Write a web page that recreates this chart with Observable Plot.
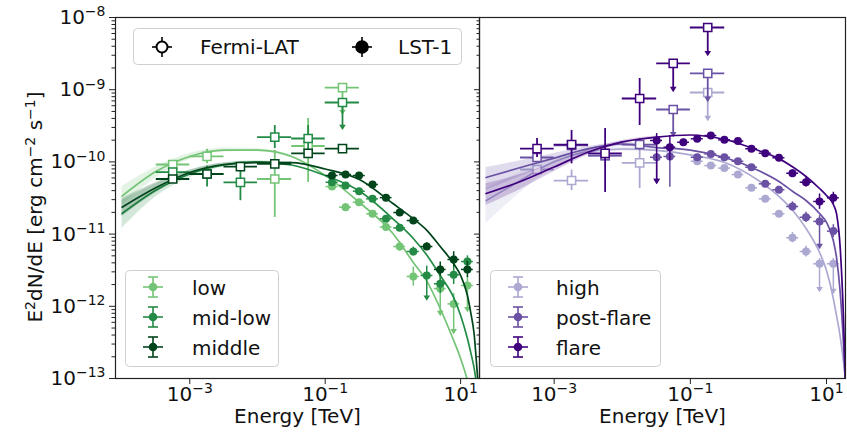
<!DOCTYPE html>
<html>
<head>
<meta charset="utf-8">
<script src="https://cdn.jsdelivr.net/npm/d3@7"></script>
<script src="https://cdn.jsdelivr.net/npm/@observablehq/plot@0.6"></script>
<style>
  body { margin: 0; background: #fff; font-family: "DejaVu Sans", sans-serif; }
  #fig { position: relative; width: 847px; height: 433px; overflow: hidden; background: #fff; }
  #fig > svg { position: absolute; top: 0; }
</style>
</head>
<body>
<div id="fig"></div>
<script>
// ---------- axes ----------
const energyDomain = [8e-5, 19];
const fluxDomain = [1e-13, 1e-8];
const fluxTicks = [1e-13, 1e-12, 1e-11, 1e-10, 1e-9, 1e-8];
const fluxTickLabels = ["10^{−13}", "10^{−12}", "10^{−11}", "10^{−10}", "10^{−9}", "10^{−8}"];
const fluxMinorTicks = fluxTicks.slice(0, -1).flatMap(t => [2, 3, 4, 5, 6, 7, 8, 9].map(m => m * t));
const energyTicks = [1e-3, 1e-1, 10];
const energyTickLabels = ["10^{−3}", "10^{−1}", "10^{1}"];
const xTitle = "Energy [TeV]";
const yTitle = "E^{2}dN/dE [erg cm^{−2} s^{−1}]";

// ---------- energy bins (TeV) ----------
const fermiE    = [5.6e-4, 1.8e-3, 5.6e-3, 1.8e-2, 5.6e-2, 0.18];
const fermiEmin = [3.2e-4, 1.0e-3, 3.2e-3, 1.0e-2, 3.2e-2, 0.10];
const fermiEmax = [1.0e-3, 3.2e-3, 1.0e-2, 3.2e-2, 0.10, 0.32];
const lstE    = [0.032, 0.050, 0.079, 0.126, 0.20, 0.316, 0.50, 0.79, 1.26, 2.0, 3.16, 5.0, 7.9, 12.6];
const lstEmin = [0.026, 0.041, 0.065, 0.103, 0.163, 0.26, 0.41, 0.65, 1.03, 1.63, 2.6, 4.1, 6.5, 10.3];
const lstEmax = [0.039, 0.061, 0.097, 0.155, 0.245, 0.39, 0.61, 0.97, 1.54, 2.45, 3.9, 6.1, 9.7, 15.4];
const modelE = [1e-4, 3.2e-4, 1e-3, 3.2e-3, 1e-2, 3.2e-2, 0.1, 0.32, 1, 2, 3.2, 5, 7.9, 10, 12.6, 14.1, 15.8, 17.8, 19];
const bandE  = [1e-4, 3.2e-4, 1e-3, 3.2e-3, 1e-2, 3.2e-2];

// ---------- low ----------
const lowFermi   = [9.2e-11, 1.19e-10, null, 5.8e-11, 1.66e-10, 1.07e-9];
const lowFermiLo = [8.4e-11, 9.4e-11, null, 1.7e-11, 5.2e-11, 5.0e-10];
const lowFermiHi = [1.0e-10, 1.5e-10, null, 1.44e-10, 4.0e-10, null];
const lowFermiUL = [0, 0, 0, 0, 0, 1];
const lowLst   = [null, null, null, 4.56e-11, 2.36e-11, 2.77e-11, 1.91e-11, 1.25e-11, 6.73e-12, 2.59e-12, null, 1.76e-12, 1.08e-12, 1.94e-12];
const lowLstLo = [null, null, null, 4.2e-11, 2.1e-11, 2.55e-11, 1.75e-11, 1.12e-11, 5.8e-12, 1.9e-12, null, 8.2e-13, 4.6e-13, 9.3e-13];
const lowLstHi = [null, null, null, 4.9e-11, 2.65e-11, 3.0e-11, 2.08e-11, 1.38e-11, 7.8e-12, 3.5e-12, null, 2.6e-12, 1.5e-12, 2.6e-12];
const lowLstArrow = [0, 0, 0, 0, 0, 0, 0, 0, 0, 0, 0, 1, 1, 1];
const lowModel = [3.36e-11, 7.4e-11, 1.19e-10, 1.46e-10, 1.46e-10, 1.19e-10, 6.5e-11, 2.74e-11, 1.02e-11, 4.05e-12, 2.2e-12, 9.3e-13, 3.36e-13, 1.89e-13, 9.4e-14, 6e-14, 4e-14, 2.5e-14, 2e-14];
const lowBandLo = [2.49e-11, 6.08e-11, 1.08e-10, 1.37e-10, 1.39e-10, 1.13e-10];
const lowBandHi = [4.56e-11, 8.6e-11, 1.31e-10, 1.56e-10, 1.53e-10, 1.25e-10];

// ---------- mid-low ----------
const midLowFermi   = [7.2e-11, 6.8e-11, 5.2e-11, 2.2e-10, 2.11e-10, 6.65e-10];
const midLowFermiLo = [6.6e-11, 4.5e-11, 2.9e-11, 1.53e-10, 1.35e-10, 3.1e-10];
const midLowFermiHi = [7.9e-11, 8.7e-11, 8.2e-11, 3.19e-10, 3.19e-10, null];
const midLowFermiUL = [0, 0, 0, 0, 0, 1];
const midLowLst   = [null, null, null, 5.23e-11, 4.71e-11, 3.93e-11, 3.08e-11, 1.63e-11, 1.22e-11, 5.74e-12, 2.67e-12, 2.05e-12, 2.73e-12, 4.17e-12];
const midLowLstLo = [null, null, null, 4.9e-11, 4.4e-11, 3.65e-11, 2.85e-11, 1.5e-11, 1.1e-11, 5.0e-12, 1.34e-12, 1.5e-12, 2.0e-12, 3.4e-12];
const midLowLstHi = [null, null, null, 5.6e-11, 5.0e-11, 4.2e-11, 3.3e-11, 1.77e-11, 1.35e-11, 6.6e-12, 3.6e-12, 2.8e-12, 3.6e-12, 5.0e-12];
const midLowLstArrow = [0, 0, 0, 0, 0, 0, 0, 0, 0, 0, 1, 0, 0, 0];
const midLowModel = [1.93e-11, 4.08e-11, 6.8e-11, 9.06e-11, 9.98e-11, 9.06e-11, 6.48e-11, 3.95e-11, 1.63e-11, 8.7e-12, 5.06e-12, 2.67e-12, 1.32e-12, 7.46e-13, 3.58e-13, 2.3e-13, 1.4e-13, 6.5e-14, 4e-14];
const midLowBandLo = [1.2e-11, 3.32e-11, 6.08e-11, 8.5e-11, 9.5e-11, 8.6e-11];
const midLowBandHi = [2.92e-11, 5.02e-11, 7.6e-11, 9.66e-11, 1.04e-10, 9.5e-11];

// ---------- middle ----------
const middleFermi   = [5.8e-11, 6.8e-11, 8.6e-11, 9.4e-11, 1.31e-10, 1.53e-10];
const middleFermiLo = [5.4e-11, 6.2e-11, 7.9e-11, 8.6e-11, 1.2e-10, 1.4e-10];
const middleFermiHi = [6.3e-11, 7.5e-11, 9.4e-11, 1.03e-10, 1.45e-10, 1.7e-10];
const middleFermiUL = [0, 0, 0, 0, 0, 0];
const middleLst   = [null, null, null, 6.48e-11, 6.68e-11, 6.48e-11, 4.87e-11, 3.2e-11, 1.99e-11, 1.54e-11, 6.73e-12, 3.24e-12, 4.45e-12, 3.24e-12];
const middleLstLo = [null, null, null, 6.1e-11, 6.3e-11, 6.1e-11, 4.6e-11, 3.0e-11, 1.85e-11, 1.42e-11, 6.0e-12, 2.6e-12, 3.5e-12, 2.5e-12];
const middleLstHi = [null, null, null, 6.9e-11, 7.1e-11, 6.9e-11, 5.2e-11, 3.4e-11, 2.15e-11, 1.67e-11, 7.6e-12, 4.1e-12, 5.7e-12, 4.2e-12];
const middleLstArrow = [0, 0, 0, 0, 0, 0, 0, 0, 0, 0, 0, 0, 0, 0];
const middleModel = [2.36e-11, 4.42e-11, 7.13e-11, 9.2e-11, 9.8e-11, 9.8e-11, 7.98e-11, 5.7e-11, 2.65e-11, 1.63e-11, 1.12e-11, 6.73e-12, 3.88e-12, 2.67e-12, 1.41e-12, 8.2e-13, 4.2e-13, 1.05e-13, 5e-14];
const middleBandLo = [1.75e-11, 3.77e-11, 6.59e-11, 8.77e-11, 9.5e-11, 9.5e-11];
const middleBandHi = [3.11e-11, 5.19e-11, 7.73e-11, 9.66e-11, 1.01e-10, 1.01e-10];

// ---------- high ----------
const highFermi   = [7.85e-11, 5.52e-11, 1.2e-10, 9.7e-11, null, 9.14e-10];
const highFermiLo = [7.3e-11, 4.0e-11, 1.1e-10, 4.28e-11, null, 4.12e-10];
const highFermiHi = [8.5e-11, 7.7e-11, 1.3e-10, 1.44e-10, null, null];
const highFermiUL = [0, 0, 0, 0, 0, 1];
const highLst   = [null, null, null, 1.02e-10, 8.9e-11, 8.2e-11, 6.68e-11, 4.38e-11, 3.08e-11, 1.91e-11, 8.9e-12, 5.74e-12, 3.88e-12, 3.88e-12];
const highLstLo = [null, null, null, 9.6e-11, 8.4e-11, 7.7e-11, 6.3e-11, 4.1e-11, 2.9e-11, 1.78e-11, 7.6e-12, 4.8e-12, 1.76e-12, 1.66e-12];
const highLstHi = [null, null, null, 1.08e-10, 9.4e-11, 8.7e-11, 7.1e-11, 4.65e-11, 3.3e-11, 2.05e-11, 1.05e-11, 6.8e-12, 4.6e-12, 4.6e-12];
const highLstArrow = [0, 0, 0, 0, 0, 0, 0, 0, 0, 0, 0, 0, 1, 1];
const highModel = [2.92e-11, 5.52e-11, 1.01e-10, 1.39e-10, 1.51e-10, 1.44e-10, 1.25e-10, 9.8e-11, 5.52e-11, 3.32e-11, 2.12e-11, 1.2e-11, 5.56e-12, 3.13e-12, 1.28e-12, 7.2e-13, 3.94e-13, 1.67e-13, 9.4e-14];
const highBandLo = [1.4e-11, 3.77e-11, 8.35e-11, 1.26e-10, 1.42e-10, 1.37e-10];
const highBandHi = [4.28e-11, 7.13e-11, 1.15e-10, 1.49e-10, 1.58e-10, 1.51e-10];

// ---------- post-flare ----------
const postFermi   = [1.15e-10, 1.69e-10, 1.23e-10, 1.74e-10, 5.32e-10, 1.68e-9];
const postFermiLo = [1.08e-10, 1.5e-10, 1.1e-10, 1.45e-10, 2.47e-10, 7.55e-10];
const postFermiHi = [1.25e-10, 1.9e-10, 1.4e-10, 2.1e-10, null, null];
const postFermiUL = [0, 0, 0, 0, 1, 1];
const postLst   = [1.16e-10, 1.19e-10, null, 1.16e-10, 1.29e-10, 1.16e-10, 1.02e-10, 8.45e-11, 4.97e-11, 4.11e-11, 2.41e-11, 1.71e-11, 1.5e-11, 1.1e-11];
const postLstLo = [5.52e-11, 4.47e-11, null, 1.08e-10, 1.2e-10, 1.08e-10, 9.5e-11, 7.8e-11, 4.5e-11, 3.7e-11, 2.1e-11, 1.45e-11, 6.95e-12, 9.0e-12];
const postLstHi = [1.3e-10, 1.3e-10, null, 1.25e-10, 1.38e-10, 1.25e-10, 1.1e-10, 9.2e-11, 5.5e-11, 4.6e-11, 2.8e-11, 2.0e-11, 1.8e-11, 1.35e-11];
const postLstArrow = [1, 0, 0, 0, 0, 0, 0, 0, 0, 0, 0, 0, 1, 0];
const postModel = [6.08e-11, 8.35e-11, 1.13e-10, 1.53e-10, 1.77e-10, 1.58e-10, 1.46e-10, 1.15e-10, 7.6e-11, 5.36e-11, 3.89e-11, 2.92e-11, 1.93e-11, 1.45e-11, 8.1e-12, 4.59e-12, 1.66e-12, 2.87e-13, 8e-14];
const postBandLo = [4.02e-11, 6.28e-11, 9.5e-11, 1.39e-10, 1.63e-10, 1.49e-10];
const postBandHi = [8.35e-11, 1.04e-10, 1.31e-10, 1.63e-10, 1.86e-10, 1.69e-10];

// ---------- flare ----------
const flareFermi   = [1.53e-10, 1.74e-10, 1.31e-10, 7.55e-10, 2.31e-9, 7.27e-9];
const flareFermiLo = [1.15e-10, 9.4e-11, 3.77e-11, 3.19e-10, 1.04e-9, 3.27e-9];
const flareFermiHi = [2.11e-10, 2.72e-10, 2.9e-10, 1.43e-9, null, null];
const flareFermiUL = [0, 0, 0, 0, 1, 1];
const flareLst   = [1.98e-10, 1.6e-10, 1.87e-10, 2.09e-10, 2.32e-10, 2.02e-10, 1.94e-10, 1.52e-10, 1.32e-10, 1.14e-10, 6.97e-11, 5.23e-11, 2.83e-11, 3.18e-11];
const flareLstLo = [5.52e-11, 1.04e-10, 1.7e-10, 1.95e-10, 2.17e-10, 1.88e-10, 1.8e-10, 1.41e-10, 1.22e-10, 1.05e-10, 6.2e-11, 4.5e-11, 2.2e-11, 2.6e-11];
const flareLstHi = [2.47e-10, 2.32e-10, 2.05e-10, 2.24e-10, 2.48e-10, 2.17e-10, 2.09e-10, 1.63e-10, 1.42e-10, 1.24e-10, 7.8e-11, 6.1e-11, 3.6e-11, 3.8e-11];
const flareLstArrow = [1, 0, 0, 0, 0, 0, 0, 0, 0, 0, 0, 0, 0, 0];
const flareModel = [3.65e-11, 5.36e-11, 8.5e-11, 1.37e-10, 1.89e-10, 2.21e-10, 2.36e-10, 2.04e-10, 1.44e-10, 1.11e-10, 8.5e-11, 6.28e-11, 4.28e-11, 3.42e-11, 2.57e-11, 1.87e-11, 6.95e-12, 6.35e-13, 8e-14];
const flareBandLo = [2.49e-11, 4.15e-11, 7.36e-11, 1.26e-10, 1.77e-10, 2.14e-10];
const flareBandHi = [5.02e-11, 6.68e-11, 9.8e-11, 1.49e-10, 1.98e-10, 2.29e-10];

// ---------- colours & states ----------
const greens = ["#74c476", "#238b45", "#00441b"];
const purples = ["#aba8d2", "#6a51a3", "#3f007d"];
const leftNames = ["low", "mid-low", "middle"];
const rightNames = ["high", "post-flare", "flare"];

const state = (name, color, f, fLo, fHi, fUL, l, lLo, lHi, lArr, model, bLo, bHi) =>
  ({name, color, f, fLo, fHi, fUL, l, lLo, lHi, lArr, model, bLo, bHi});

const leftStates = [
  state("low", greens[0], lowFermi, lowFermiLo, lowFermiHi, lowFermiUL, lowLst, lowLstLo, lowLstHi, lowLstArrow, lowModel, lowBandLo, lowBandHi),
  state("mid-low", greens[1], midLowFermi, midLowFermiLo, midLowFermiHi, midLowFermiUL, midLowLst, midLowLstLo, midLowLstHi, midLowLstArrow, midLowModel, midLowBandLo, midLowBandHi),
  state("middle", greens[2], middleFermi, middleFermiLo, middleFermiHi, middleFermiUL, middleLst, middleLstLo, middleLstHi, middleLstArrow, middleModel, middleBandLo, middleBandHi)
];
const rightStates = [
  state("high", purples[0], highFermi, highFermiLo, highFermiHi, highFermiUL, highLst, highLstLo, highLstHi, highLstArrow, highModel, highBandLo, highBandHi),
  state("post-flare", purples[1], postFermi, postFermiLo, postFermiHi, postFermiUL, postLst, postLstLo, postLstHi, postLstArrow, postModel, postBandLo, postBandHi),
  state("flare", purples[2], flareFermi, flareFermiLo, flareFermiHi, flareFermiUL, flareLst, flareLstLo, flareLstHi, flareLstArrow, flareModel, flareBandLo, flareBandHi)
];

// downward arrow head for upper limits
const arrowHead = {
  draw(ctx, size) {
    const s = Math.sqrt(size) / 1.6;
    ctx.moveTo(-s, -s * 0.5);
    ctx.lineTo(s, -s * 0.5);
    ctx.lineTo(0, s * 1.1);
    ctx.closePath();
  }
};

function stateMarks(s) {
  const band = bandE.map((E, i) => ({E, lo: s.bLo[i], hi: s.bHi[i]}));
  const model = modelE.map((E, i) => ({E, F: s.model[i]}));
  const fermi = fermiE.map((E, i) => ({E, Emin: fermiEmin[i], Emax: fermiEmax[i], F: s.f[i], lo: s.fLo[i], hi: s.fHi[i] ?? s.f[i], arrow: s.fUL[i]}))
    .filter(d => d.F != null);
  const lst = lstE.map((E, i) => ({E, Emin: lstEmin[i], Emax: lstEmax[i], F: s.l[i], lo: s.lLo[i], hi: s.lHi[i], arrow: s.lArr[i]}))
    .filter(d => d.F != null);
  return [
    Plot.areaY(band, {x: "E", y1: "lo", y2: "hi", fill: s.color, fillOpacity: 0.2, curve: "monotone-x"}),
    Plot.line(model, {x: "E", y: "F", stroke: s.color, strokeWidth: 1.7, curve: "monotone-x", clip: true}),
    Plot.ruleY(fermi, {y: "F", x1: "Emin", x2: "Emax", stroke: s.color, strokeWidth: 1.8}),
    Plot.ruleX(fermi, {x: "E", y1: "lo", y2: "hi", stroke: s.color, strokeWidth: 1.8}),
    Plot.dot(fermi.filter(d => d.arrow), {x: "E", y: "lo", symbol: arrowHead, r: 3, fill: s.color}),
    Plot.dot(fermi, {x: "E", y: "F", symbol: "square", r: 4.6, fill: "white", stroke: s.color, strokeWidth: 1.5}),
    Plot.ruleY(lst, {y: "F", x1: "Emin", x2: "Emax", stroke: s.color, strokeWidth: 1.5}),
    Plot.ruleX(lst, {x: "E", y1: "lo", y2: "hi", stroke: s.color, strokeWidth: 1.5}),
    Plot.dot(lst.filter(d => d.arrow), {x: "E", y: "lo", symbol: arrowHead, r: 3, fill: s.color}),
    Plot.dot(lst, {x: "E", y: "F", r: 4, fill: s.color})
  ];
}

const fmt = (ticks, labels) => d => labels[ticks.indexOf(d)];
const commonStyle = {fontFamily: "DejaVu Sans", fontSize: "20px", background: "transparent", overflow: "visible", color: "#111"};

function xAxisMarks() {
  return [
    Plot.axisX({anchor: "bottom", ticks: energyTicks, tickSize: 6, tickPadding: 2, tickFormat: fmt(energyTicks, energyTickLabels), fontSize: 20, label: null, stroke: "#222"}),
    Plot.text([xTitle], {frameAnchor: "bottom", dy: 44, fontSize: 20, fill: "#111"})
  ];
}

const leftPlot = Plot.plot({
  width: 480, height: 433,
  marginLeft: 115, marginRight: 1, marginTop: 17, marginBottom: 55,
  x: {type: "log", domain: energyDomain, axis: null},
  y: {type: "log", domain: fluxDomain, axis: null},
  style: commonStyle,
  marks: [
    ...leftStates.flatMap(stateMarks),
    Plot.axisY({anchor: "left", ticks: fluxTicks, tickSize: 6, tickPadding: 4, tickFormat: fmt(fluxTicks, fluxTickLabels), fontSize: 20, label: null, stroke: "#222"}),
    Plot.axisY({anchor: "left", ticks: fluxMinorTicks, tickSize: 3.5, tickFormat: () => "", label: null, stroke: "#222"}),
    Plot.axisY({anchor: "right", ticks: fluxTicks, tickSize: 6, dx: -6, tickFormat: () => "", label: null, stroke: "#222"}),
    Plot.axisY({anchor: "right", ticks: fluxMinorTicks, tickSize: 3.5, dx: -3.5, tickFormat: () => "", label: null, stroke: "#222"}),
    ...xAxisMarks(),
    Plot.frame({stroke: "#222", strokeWidth: 1.2})
  ]
});

const rightPlot = Plot.plot({
  width: 369, height: 433,
  marginLeft: 1, marginRight: 2, marginTop: 17, marginBottom: 55,
  x: {type: "log", domain: energyDomain, axis: null},
  y: {type: "log", domain: fluxDomain, axis: null},
  style: commonStyle,
  marks: [
    ...rightStates.flatMap(stateMarks),
    ...xAxisMarks(),
    Plot.frame({stroke: "#222", strokeWidth: 1.2})
  ]
});

// turn "^{...}" into raised tspans
function superscripts(svg) {
  svg.querySelectorAll("text").forEach(t => {
    const s = t.textContent;
    if (!s.includes("^{")) return;
    const parts = s.split(/\^\{([^}]*)\}/);
    t.textContent = "";
    let raised = false;
    parts.forEach((p, i) => {
      if (p === "") return;
      const ts = document.createElementNS("http://www.w3.org/2000/svg", "tspan");
      const sup = i % 2 === 1;
      if (sup && !raised) { ts.setAttribute("dy", "-7.5"); raised = true; }
      else if (!sup && raised) { ts.setAttribute("dy", "7.5"); raised = false; }
      if (sup) ts.setAttribute("font-size", "14");
      ts.textContent = p;
      t.appendChild(ts);
    });
  });
}

const fig = document.getElementById("fig");
leftPlot.style.left = "0px";
rightPlot.style.left = "478px";
fig.appendChild(leftPlot);
fig.appendChild(rightPlot);

// ---------- legends and flux title ----------
const legend = d3.create("svg")
  .attr("width", 847).attr("height", 433)
  .style("left", "0px")
  .attr("font-family", "DejaVu Sans").attr("font-size", 20).attr("fill", "#111");

legend.append("text")
  .attr("transform", "translate(42,207) rotate(-90)")
  .attr("text-anchor", "middle")
  .text(yTitle);

function legendBox(x, y, w, h) {
  legend.append("rect").attr("x", x).attr("y", y).attr("width", w).attr("height", h).attr("rx", 4)
    .attr("fill", "white").attr("fill-opacity", 0.85).attr("stroke", "#cfcfcf").attr("stroke-width", 1);
}
function errorIcon(cx, cy, color, caps) {
  const g = legend.append("g").attr("stroke", color).attr("stroke-width", 1.6);
  g.append("line").attr("x1", cx - 10).attr("x2", cx + 10).attr("y1", cy).attr("y2", cy);
  g.append("line").attr("x1", cx).attr("x2", cx).attr("y1", cy - 10).attr("y2", cy + 10);
  if (caps) {
    g.append("line").attr("x1", cx - 5).attr("x2", cx + 5).attr("y1", cy - 10).attr("y2", cy - 10);
    g.append("line").attr("x1", cx - 5).attr("x2", cx + 5).attr("y1", cy + 10).attr("y2", cy + 10);
  }
  return g;
}

// instruments
legendBox(133.5, 28.5, 328, 36);
errorIcon(162, 47, "#000", false).append("circle").attr("cx", 162).attr("cy", 47).attr("r", 5.5).attr("fill", "white").attr("stroke-width", 2);
legend.append("text").attr("x", 200).attr("y", 54).text("Fermi-LAT");
errorIcon(362, 47, "#000", false).append("circle").attr("cx", 362).attr("cy", 47).attr("r", 6).attr("fill", "#000");
legend.append("text").attr("x", 398).attr("y", 54).text("LST-1");

// states
function stateLegend(x, y, w, names, colors, iconX, textX) {
  legendBox(x, y, w, 96);
  names.forEach((n, i) => {
    const cy = y + 16.5 + 30 * i;
    errorIcon(iconX, cy, colors[i], true).append("circle").attr("cx", iconX).attr("cy", cy).attr("r", 4.3).attr("fill", colors[i]).attr("stroke", "none");
    legend.append("text").attr("x", textX).attr("y", cy + 8).text(n);
  });
}
stateLegend(125.5, 270.5, 153, leftNames, greens, 153, 192);
stateLegend(490.5, 270.5, 170, rightNames, purples, 518, 556);

const legendNode = legend.node();
superscripts(leftPlot);
superscripts(rightPlot);
superscripts(legendNode);
fig.appendChild(legendNode);
</script>
</body>
</html>
